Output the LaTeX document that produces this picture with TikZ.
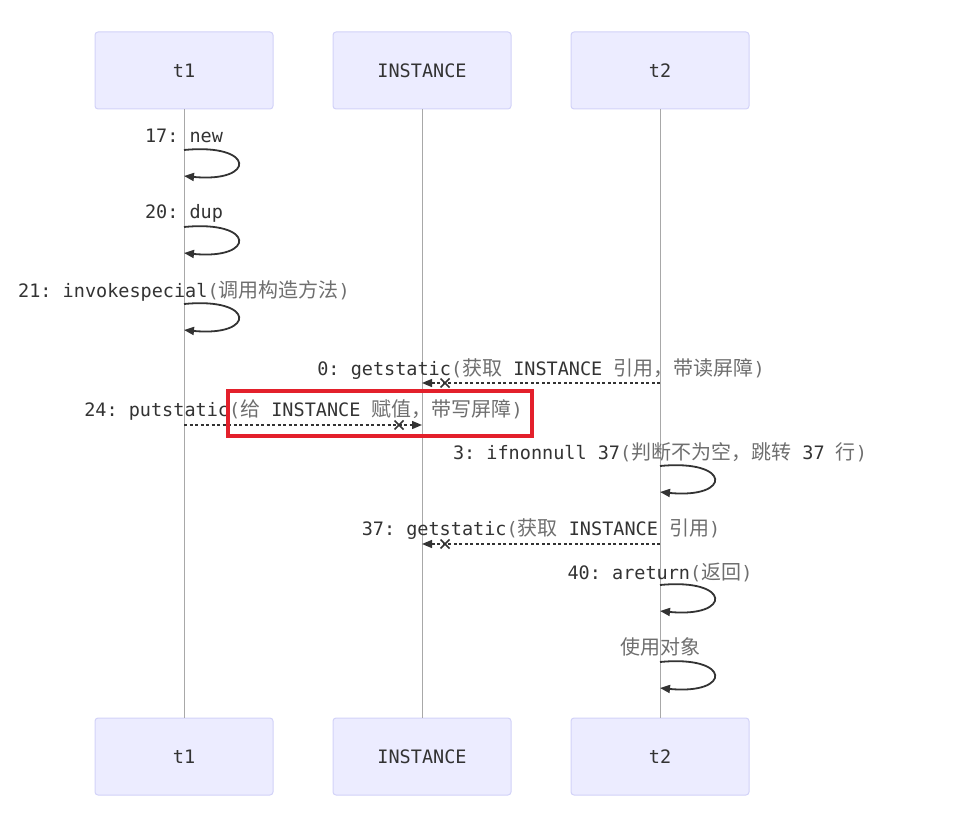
\documentclass[tikz,border=0pt]{standalone}
\usepackage{fontspec}
\setmonofont{DejaVu Sans Mono}
\newfontfamily\cjkfont{Noto Sans CJK SC}
\usetikzlibrary{arrows.meta}
\definecolor{actfill}{HTML}{ECECFF}
\definecolor{actline}{HTML}{D2D2F8}
\definecolor{lifecol}{HTML}{A8A8A8}
\definecolor{msgtext}{HTML}{333333}
\definecolor{zhtext}{HTML}{6E6E6E}
\definecolor{hlred}{HTML}{E3202B}
\newcommand{\zh}[1]{{\color{zhtext}\cjkfont\fontsize{20}{24}\selectfont #1}}
\newcommand{\gp}[1]{{\color{zhtext}#1}}
\tikzset{
  actor/.style={draw=actline, fill=actfill, line width=1pt, rounded corners=3pt,
    minimum width=178pt, minimum height=77pt, inner sep=0pt,
    text=msgtext, font=\ttfamily\fontsize{18.5}{22}\selectfont},
  lifeline/.style={draw=lifecol, line width=0.9pt},
  msglabel/.style={inner sep=0pt, anchor=center, text=msgtext,
    font=\ttfamily\fontsize{18.5}{22}\selectfont},
  selfloop/.style={draw=msgtext, line width=1.8pt,
    -{Triangle[length=10pt,width=8pt]}},
  msgarrow/.style={draw=msgtext, line width=1.4pt, dash pattern=on 3pt off 2.5pt,
    -{Triangle[length=10pt,width=8pt]}},
  crossmark/.style={draw=msgtext, line width=1.6pt},
  hlbox/.style={draw=hlred, line width=3.2pt}
}
\begin{document}
\begin{tikzpicture}[x=1pt,y=-1pt]
\useasboundingbox (0,0) rectangle (958,821);
% actors
\node[actor] (t1top) at (184,70.5) {t1};
\node[actor] (intop) at (422,70.5) {INSTANCE};
\node[actor] (t2top) at (660,70.5) {t2};
\node[actor] (t1bot) at (184,756.5) {t1};
\node[actor] (inbot) at (422,756.5) {INSTANCE};
\node[actor] (t2bot) at (660,756.5) {t2};
% lifelines
\draw[lifeline] (t1top.south) -- (t1bot.north);
\draw[lifeline] (intop.south) -- (inbot.north);
\draw[lifeline] (t2top.south) -- (t2bot.north);

% t1 self messages
\node[msglabel] (l1) at (184,136) {17: new};
\coordinate (l1s) at (184,150); \coordinate (l1e) at (184,176);
\draw[selfloop] (l1s) .. controls +(72,-7) and +(72,7) .. (l1e);

\node[msglabel] (l2) at (184,213) {20: dup};
\coordinate (l2s) at (184,227); \coordinate (l2e) at (184,253);
\draw[selfloop] (l2s) .. controls +(72,-7) and +(72,7) .. (l2e);

\node[msglabel] (l3) at (184,291) {21: invokespecial\gp{(}\zh{调用构造方法}\gp{)}};
\coordinate (l3s) at (184,304); \coordinate (l3e) at (184,330);
\draw[selfloop] (l3s) .. controls +(72,-7) and +(72,7) .. (l3e);

% t2 -> INSTANCE getstatic
\node[msglabel] (m0) at (541,369) {0: getstatic\gp{(}\zh{获取} INSTANCE \zh{引用，带读屏障}\gp{)}};
\coordinate (m0s) at (660,383); \coordinate (m0e) at (422,383);
\draw[msgarrow] (m0s) -- (m0e);
\coordinate (x0) at (445,383);
\draw[crossmark] (x0) +(-4.5,-4.5) -- +(4.5,4.5) +(-4.5,4.5) -- +(4.5,-4.5);

% t1 -> INSTANCE putstatic
\node[msglabel] (m1) at (303.5,410) {24: putstatic\gp{(}\zh{给} INSTANCE \zh{赋值，带写屏障}\gp{)}};
\coordinate (m1s) at (184,425); \coordinate (m1e) at (422,425);
\draw[msgarrow] (m1s) -- (m1e);
\coordinate (x1) at (399,425);
\draw[crossmark] (x1) +(-4.5,-4.5) -- +(4.5,4.5) +(-4.5,4.5) -- +(4.5,-4.5);
\draw[hlbox] (228,391) rectangle (532,436);

% t2 self: ifnonnull
\node[msglabel] (l4) at (660,452) {3: ifnonnull 37\gp{(}\zh{判断不为空，跳转} 37 \zh{行}\gp{)}};
\coordinate (l4s) at (660,466); \coordinate (l4e) at (660,492);
\draw[selfloop] (l4s) .. controls +(72,-7) and +(72,7) .. (l4e);

% t2 -> INSTANCE getstatic 37
\node[msglabel] (m2) at (541,529) {37: getstatic\gp{(}\zh{获取} INSTANCE \zh{引用}\gp{)}};
\coordinate (m2s) at (660,544); \coordinate (m2e) at (422,544);
\draw[msgarrow] (m2s) -- (m2e);
\coordinate (x2) at (445,544);
\draw[crossmark] (x2) +(-4.5,-4.5) -- +(4.5,4.5) +(-4.5,4.5) -- +(4.5,-4.5);

% t2 self: areturn
\node[msglabel] (l5) at (660,572) {40: areturn\gp{(}\zh{返回}\gp{)}};
\coordinate (l5s) at (660,585); \coordinate (l5e) at (660,611);
\draw[selfloop] (l5s) .. controls +(72,-7) and +(72,7) .. (l5e);

% t2 self: use object
\node[msglabel] (l6) at (660,647) {\zh{使用对象}};
\coordinate (l6s) at (660,662); \coordinate (l6e) at (660,688);
\draw[selfloop] (l6s) .. controls +(72,-7) and +(72,7) .. (l6e);
\end{tikzpicture}
\end{document}
